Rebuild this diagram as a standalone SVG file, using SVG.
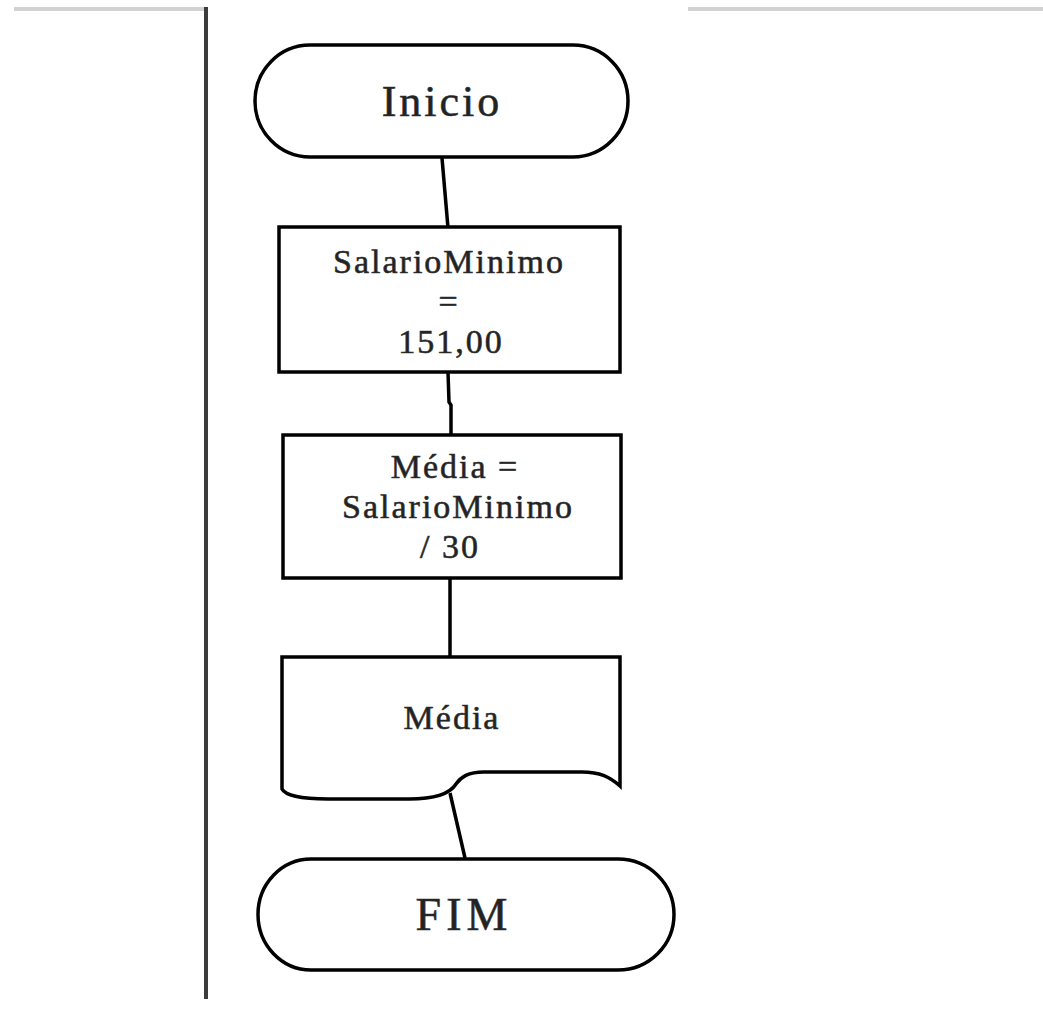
<svg xmlns="http://www.w3.org/2000/svg" width="1043" height="1011" viewBox="0 0 1043 1011">
<style>
.shape{fill:#fff;stroke:#000;stroke-width:3.5}
.conn{fill:none;stroke:#000;stroke-width:3.5}
.t{font-family:"Liberation Serif","Times New Roman",serif;fill:#222;stroke:#333;stroke-width:0.6;text-anchor:middle}
.s{font-size:34px;letter-spacing:2px}
</style>
<rect x="0" y="0" width="1043" height="1011" fill="#fff"/>
<g id="frame">
<rect x="14" y="7" width="190" height="4" fill="#d2d2d2"/>
<rect x="688" y="7" width="355" height="4" fill="#d2d2d2"/>
<rect x="204" y="7" width="4" height="992" fill="#3c3c3c"/>
</g>
<g id="connectors">
<path class="conn" d="M442,158 L448,228"/>
<path class="conn" d="M448,372 L449,402 L451,405 L451,435"/>
<path class="conn" d="M450,578 L450,657"/>
<path class="conn" d="M450,793 L465,858"/>
</g>
<g id="inicio">
<path class="shape" d="M310,45 H573 A55,56 0 0 1 573,157 H310 A55,56 0 0 1 310,45 Z"/>
<text class="t" x="442" y="116" font-size="44" letter-spacing="3">Inicio</text>
</g>
<g id="salario">
<rect class="shape" x="279" y="227" width="341" height="145"/>
<text class="t s" x="449" y="273">SalarioMinimo</text>
<text class="t s" x="449" y="313">=</text>
<text class="t s" x="451" y="353">151,00</text>
</g>
<g id="media-calc">
<rect class="shape" x="283" y="435" width="338" height="143"/>
<text class="t s" x="455" y="478">Média =</text>
<text class="t s" x="458" y="518">SalarioMinimo</text>
<text class="t s" x="450" y="558">/ 30</text>
</g>
<g id="media-out">
<path class="shape" d="M282,657 H620 V786 C610,777 600,772 582,772 H484 C468,772 461,777 456,784 C451,792 440,799 409,799 H328 C300,799 285,795 282,789 Z"/>
<text class="t s" x="452" y="729">Média</text>
</g>
<g id="fim">
<path class="shape" d="M311,859 H618 A56,55.5 0 0 1 618,970 H311 A53,55.5 0 0 1 311,859 Z"/>
<text class="t" x="464" y="930" font-size="46" letter-spacing="5">FIM</text>
</g>
</svg>
